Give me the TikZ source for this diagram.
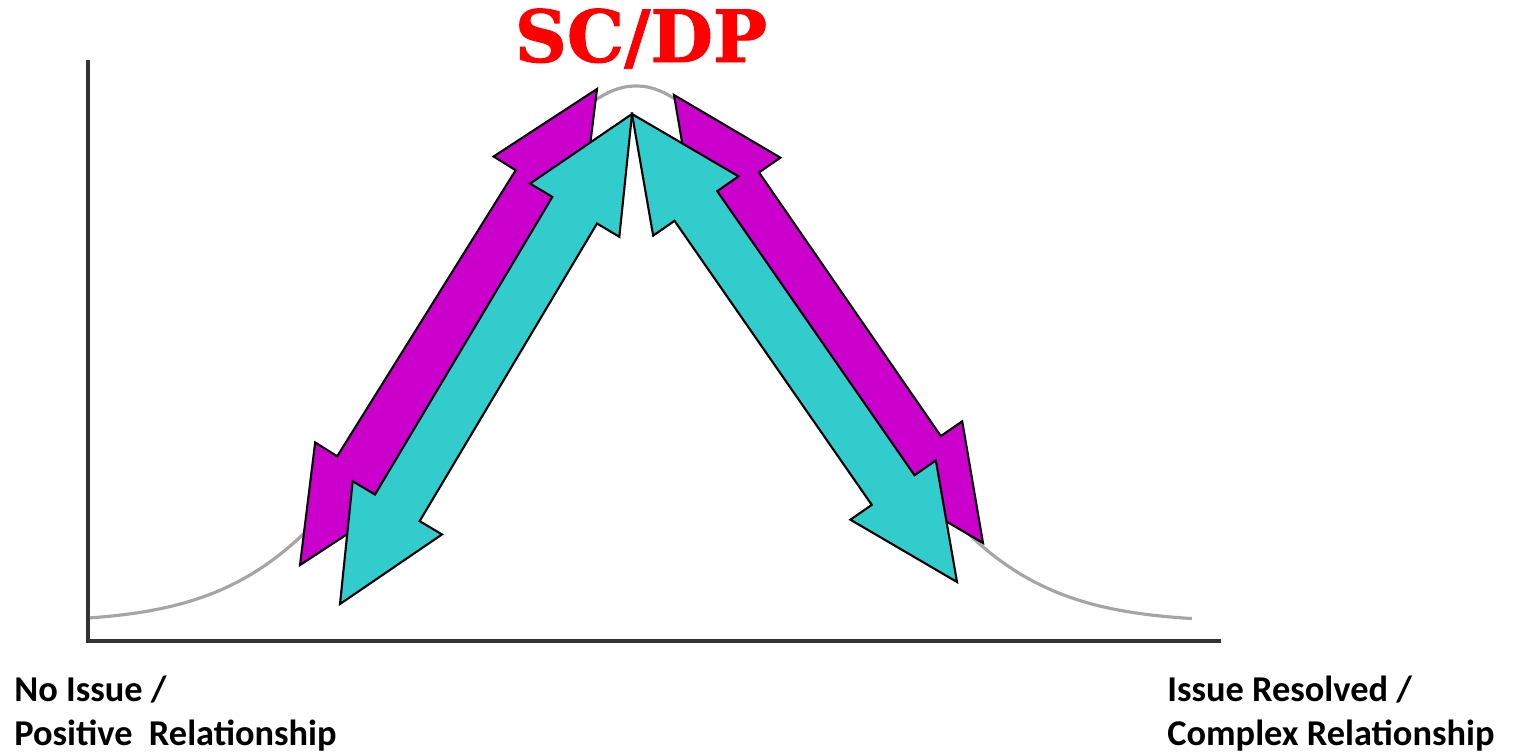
\documentclass[tikz,border=0pt]{standalone}
\usepackage{fontspec}
\usepackage{tikz}
\usetikzlibrary{calc}
\newfontfamily\labelfont{Carlito}
\newfontfamily\titlefont[FakeBold=1.2]{DejaVu Serif}
\definecolor{arrowmag}{RGB}{204,0,204}
\definecolor{arrowcyan}{RGB}{51,204,204}
\definecolor{curvegray}{RGB}{165,165,165}
\definecolor{axisgray}{RGB}{51,51,51}
\definecolor{titlered}{RGB}{255,0,0}

% head length, head half width, shaft half width
\newcommand{\hdlen}{2.24cm}
\newcommand{\hdwid}{1.04cm}
\newcommand{\shwid}{0.52cm}

% double headed block arrow: style, tip, tip
\newcommand{\dblarrow}[3]{%
  \coordinate (hA) at ($(#2)!\hdlen!(#3)$);
  \coordinate (hB) at ($(#3)!\hdlen!(#2)$);
  \draw[#1] (#2) -- ($(hA)!\hdwid!90:(#3)$) -- ($(hA)!\shwid!90:(#3)$)
    -- ($(hB)!\shwid!-90:(#2)$) -- ($(hB)!\hdwid!-90:(#2)$) -- (#3)
    -- ($(hB)!\hdwid!90:(#2)$) -- ($(hB)!\shwid!90:(#2)$)
    -- ($(hA)!\shwid!-90:(#3)$) -- ($(hA)!\hdwid!-90:(#3)$) -- cycle;
}

\begin{document}
\begin{tikzpicture}[x=0.02cm, y=-0.02cm,
  arrowbox/.style={draw=black, line width=1.2pt, line join=miter},
  magarrow/.style={arrowbox, fill=arrowmag},
  cyanarrow/.style={arrowbox, fill=arrowcyan},
  axisline/.style={draw=axisgray, line width=2.8pt},
  bellcurve/.style={draw=curvegray, line width=1.8pt},
  endlabel/.style={font=\labelfont\bfseries\fontsize{20.7}{25}\selectfont,
                   align=left, anchor=north west, inner sep=0pt}
]
\useasboundingbox (0,0) rectangle (1521,752);

%% Axes
\coordinate (ytop) at (88,60);
\coordinate (origin) at (88,641);
\coordinate (xend) at (1221,641);
\draw[axisline] (ytop) -- (origin) -- (xend);

%% Bell curve
\draw[bellcurve] plot[domain=-5.46:5.56, samples=120, smooth]
  ({636+100*\x},{622-536*exp(-(\x*\x)/6.125)});

%% Arrow tips
\coordinate (mlBot) at (300,565);
\coordinate (mlTop) at (597,89);
\coordinate (mrBot) at (983,543);
\coordinate (mrTop) at (674,95);
\coordinate (clBot) at (340,604);
\coordinate (crBot) at (957,582);
\coordinate (peak) at (632,114);

%% Magenta arrows
\dblarrow{magarrow}{mlBot}{mlTop}
\dblarrow{magarrow}{mrBot}{mrTop}

%% Cyan arrows
\dblarrow{cyanarrow}{clBot}{peak}
\dblarrow{cyanarrow}{crBot}{peak}

%% Title
\node[text=titlered, font=\titlefont\bfseries\fontsize{41}{41}\selectfont,
      anchor=base] (title) at (641,62) {SC/DP};

%% End labels
\node[endlabel] (leftlbl) at (14,676) {No Issue /\\Positive\ \ Relationship};
\node[endlabel] (rightlbl) at (1167,676) {Issue Resolved /\\Complex Relationship};

\end{tikzpicture}
\end{document}
